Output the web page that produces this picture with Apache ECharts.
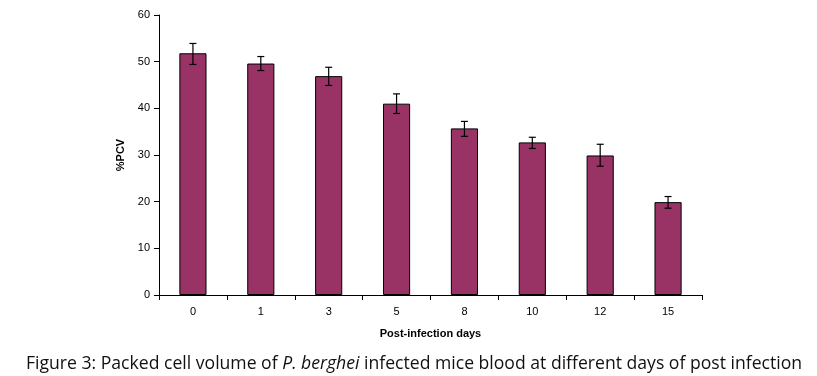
<!DOCTYPE html>
<html>
<head>
	<title>Packed cell volume</title>
	<script src="https://cdn.jsdelivr.net/npm/echarts@6/dist/echarts.min.js"></script>
	<style>
        html,body{
            height:100%;
            width: 100%;
            margin: 0;
            padding: 0;
            background: #ffffff;
        }
        #chart{
            width: 817px;
            height: 376px;
            margin: 0;
            padding: 0;
        }
    </style>
</head>
<body>
	<div id="chart"></div>
	<script type="text/javascript">
			var days = ['0', '1', '3', '5', '8', '10', '12', '15'];//x轴类别
			var pcv = [51.8, 49.6, 46.9, 41.0, 35.7, 32.7, 29.9, 19.9];//均值
			var errLow = [49.4, 48.1, 44.9, 38.9, 34.0, 31.4, 27.6, 18.6];//误差下限
			var errHigh = [53.9, 51.1, 48.8, 43.1, 37.2, 33.8, 32.3, 21.1];//误差上限
			var yTicks = [0, 10, 20, 30, 40, 50, 60];

			var errData = [];
			for (var i = 0; i < days.length; i++) {
				errData.push([i, errLow[i], errHigh[i]]);
			}

			var chart = echarts.init(document.getElementById('chart'));
			var axisFont = { color: '#000', fontSize: 11, fontFamily: 'Liberation Sans, Arial, sans-serif' };

			var option = {
				backgroundColor: '#ffffff',
				animation: false,
				title: {
					left: 21,
					top: 350,
					text: '{a|Figure 3: Packed cell volume of }{b|P. berghei}{a| infected mice blood at different days of post infection}',
					textStyle: {
						fontWeight: 'normal',
						rich: {
							a: { fontFamily: 'Open Sans', fontSize: 17.6, fontWeight: 'normal', color: '#111' },
							b: { fontFamily: 'Open Sans', fontSize: 17.6, fontWeight: 'normal', color: '#111', fontStyle: 'italic' }
						}
					}
				},
				grid: { left: 159, right: 115, top: 15, bottom: 81 },
				xAxis: {
					type: 'category',
					data: days,
					name: 'Post-infection days',
					nameLocation: 'middle',
					nameGap: 33,
					nameTextStyle: { color: '#000', fontSize: 11, fontWeight: 'bold', fontFamily: 'Liberation Sans, Arial, sans-serif' },
					axisLine: { lineStyle: { color: '#000', width: 1 } },
					axisTick: { show: true, length: 5, lineStyle: { color: '#000' } },
					axisLabel: Object.assign({ margin: 11 }, axisFont)
				},
				yAxis: {
					type: 'value',
					min: yTicks[0],
					max: yTicks[yTicks.length - 1],
					interval: 10,
					name: '%PCV',
					nameLocation: 'middle',
					nameGap: 30,
					nameTextStyle: { color: '#000', fontSize: 11, fontWeight: 'bold', fontFamily: 'Liberation Sans, Arial, sans-serif' },
					axisLine: { show: true, lineStyle: { color: '#000', width: 1 } },
					axisTick: { show: true, length: 5, lineStyle: { color: '#000' } },
					axisLabel: Object.assign({ margin: 9 }, axisFont),
					splitLine: { show: false }
				},
				series: [
					{
						name: '%PCV',
						type: 'bar',
						data: pcv,
						barWidth: '40%',
						itemStyle: { color: '#993366', borderColor: '#000', borderWidth: 1 }
					},
					{
						name: 'error',
						type: 'custom',
						data: errData,
						z: 10,
						renderItem: function (params, api) {
							var x = api.value(0);
							var lo = api.coord([x, api.value(1)]);
							var hi = api.coord([x, api.value(2)]);
							var hw = 3.5;
							var style = { stroke: '#000', lineWidth: 1.2 };
							return {
								type: 'group',
								children: [
									{ type: 'line', shape: { x1: hi[0], y1: hi[1], x2: lo[0], y2: lo[1] }, style: style },
									{ type: 'line', shape: { x1: hi[0] - hw, y1: hi[1], x2: hi[0] + hw, y2: hi[1] }, style: style },
									{ type: 'line', shape: { x1: lo[0] - hw, y1: lo[1], x2: lo[0] + hw, y2: lo[1] }, style: style }
								]
							};
						}
					}
				]
			};

			chart.setOption(option);
		</script>
</body>
</html>
